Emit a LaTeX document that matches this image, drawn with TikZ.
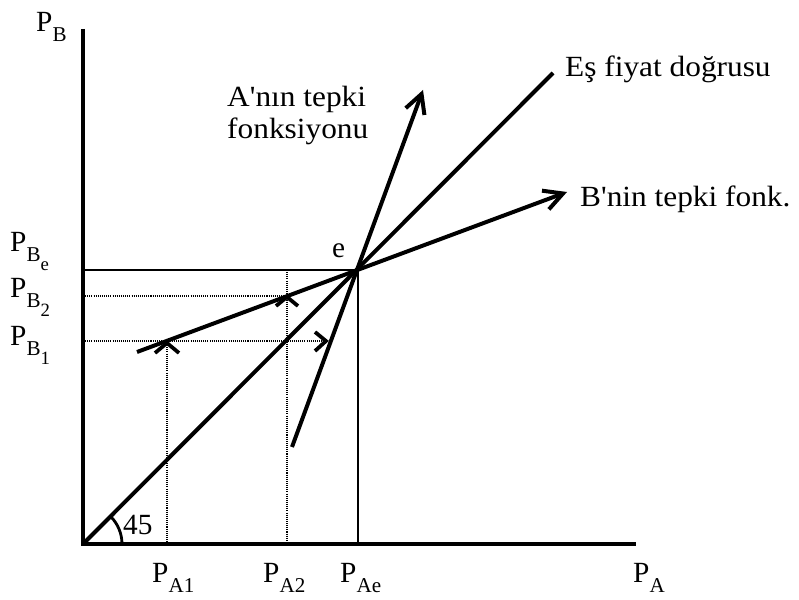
\documentclass[tikz,border=0pt]{standalone}
\usepackage{fontspec}
\setmainfont{Liberation Serif}
\usepackage{graphicx}
\usetikzlibrary{arrows.meta}
\newcommand{\wide}[1]{\scalebox{1.07}[1]{#1}}
\newcommand{\lowsub}[1]{\raisebox{-8.5pt}{\fontsize{18}{18}\selectfont #1}}
\newcommand{\lowsubb}[1]{\raisebox{-7pt}{\fontsize{16}{16}\selectfont #1}}
\begin{document}
\begin{tikzpicture}[x=0.03cm,y=-0.03cm,
  axis/.style={line width=2.8pt},
  curve/.style={line width=3.4pt},
  guide/.style={line width=2.4pt},
  dots/.style={line width=2pt, dash pattern=on 0.9pt off 0.9pt},
  barb/.style={-{Straight Barb[length=16pt,width=17pt]}},
  chev/.style={line width=3.2pt, line join=miter},
  lbl/.style={inner sep=0pt, anchor=base west, font=\fontsize{25}{30}\selectfont}]
\useasboundingbox (0,0) rectangle (799,600);
% key points
\coordinate (O) at (83,544);
\coordinate (Ytop) at (83,29);
\coordinate (Xend) at (636,544);
\coordinate (E) at (357,270);
\coordinate (Lend) at (553,73);
\coordinate (Astart) at (292,447);
\coordinate (Aend) at (423,90);
\coordinate (Bstart) at (137,352);
\coordinate (Bend) at (567,192);
\coordinate (Be) at (83,270);
\coordinate (AeTop) at (358,270);
\coordinate (Ae) at (358,544);
\coordinate (B2) at (83,296);
\coordinate (B2r) at (287,296);
\coordinate (A2top) at (287,270);
\coordinate (A2) at (287,544);
\coordinate (B1) at (83,341);
\coordinate (B1r) at (326,341);
\coordinate (A1top) at (167,343);
\coordinate (A1) at (167,544);
\coordinate (Arc0) at (122,544);
% axes
\draw[axis] (Ytop) -- (O) -- (Xend);
% equilibrium guides
\draw[guide] (Be) -- (E);
\draw[guide] (AeTop) -- (Ae);
% dotted guides
\draw[dots] (B2) -- (B2r);
\draw[dots] (A2top) -- (A2);
\draw[dots] (B1) -- (B1r);
\draw[dots] (A1top) -- (A1);
% lines
\draw[curve] (O) -- (Lend);
\draw[curve, barb] (Astart) -- (Aend);
\draw[curve, barb] (Bstart) -- (Bend);
% chevrons
\draw[chev] (155,353) -- (A1top) -- (179,353);
\draw[chev] (276,306) -- (287,297) -- (298,306);
\draw[chev] (315,332) -- (B1r) -- (315,351);
% 45 degree arc
\draw[line width=2.4pt] (Arc0) arc[start angle=0, end angle=-45, radius=39];
% labels
\node[lbl] (lPB) at (36,32) {P\lowsub{B}};
\node[lbl] (lPBe) at (10,252) {P\lowsub{B\lowsubb{e}}};
\node[lbl] (lPB2) at (10,298) {P\lowsub{B\lowsubb{2}}};
\node[lbl] (lPB1) at (10,346) {P\lowsub{B\lowsubb{1}}};
\node[lbl] (lPA1) at (152,583) {P\lowsub{A1}};
\node[lbl] (lPA2) at (263,583) {P\lowsub{A2}};
\node[lbl] (lPAe) at (340,583) {P\lowsub{Ae}};
\node[lbl] (lPA) at (633,583) {P\lowsub{A}};
\node[lbl] (l45) at (123,535) {45};
\node[lbl] (le) at (332,258) {e};
\node[lbl] (lA) at (227,107) {\wide{A\textquotesingle nın tepki}};
\node[lbl] (lA2) at (227,139) {\wide{fonksiyonu}};
\node[lbl] (lEs) at (565,77) {\wide{Eş fiyat doğrusu}};
\node[lbl] (lB) at (580,207) {\wide{B\textquotesingle nin tepki fonk.}};
\end{tikzpicture}
\end{document}
